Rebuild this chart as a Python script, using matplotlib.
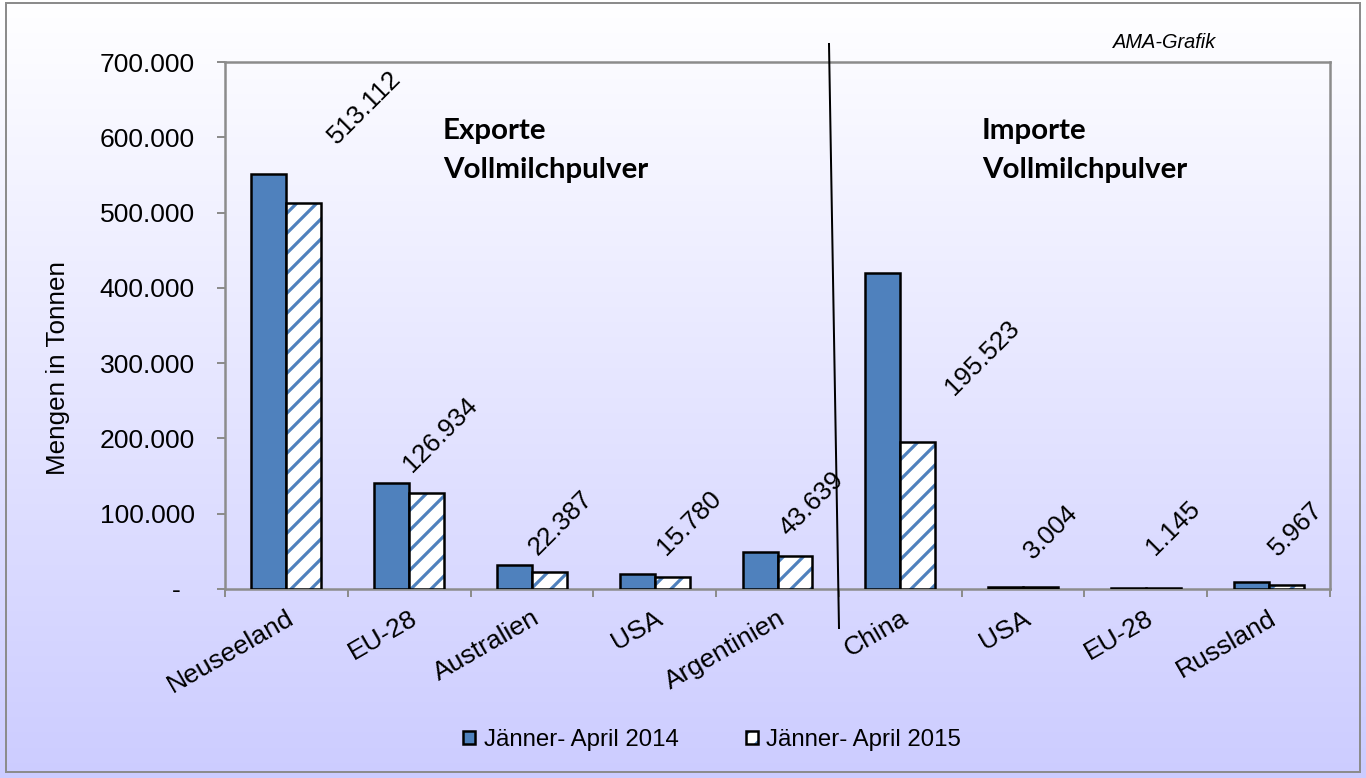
import numpy as np
import matplotlib
matplotlib.use("Agg")
import matplotlib.pyplot as plt
from matplotlib.patches import Patch, Rectangle
from matplotlib.lines import Line2D
from matplotlib.legend_handler import HandlerTuple
from matplotlib.ticker import FuncFormatter, FixedLocator

# ---------------- data ----------------
categories = ["Neuseeland", "EU-28", "Australien", "USA", "Argentinien",
              "China", "USA", "EU-28", "Russland"]
values_2014 = [551000, 141000, 31900, 19500, 49500, 420000, 2000, 800, 9500]
values_2015 = [513112, 126934, 22387, 15780, 43639, 195523, 3004, 1145, 5967]
series_names = ["Jänner- April 2014", "Jänner- April 2015"]
y_ticks = [0, 100000, 200000, 300000, 400000, 500000, 600000, 700000]
y_label = "Mengen in Tonnen"
export_title = "Exporte\nVollmilchpulver"
import_title = "Importe\nVollmilchpulver"
source_note = "AMA-Grafik"

# label offsets (pixels) relative to top of the 2015 bar
label_dx = [61, 14, 11, 17, 17, 65, 11, 10, 10]
label_dy = [95, 59, 49, 54, 52, 84, 55, 60, 55]

# ---------------- style ----------------
W, H = 1366, 778
DPI = 120
def px(p):
    return p * 72.0 / DPI

BLUE = "#4F81BD"
GRID_GRAY = "#8C8C8C"
FONT = "Liberation Sans"
plt.rcParams["font.family"] = [FONT, "DejaVu Sans"]
plt.rcParams["hatch.linewidth"] = px(3.2)

fig = plt.figure(figsize=(W / DPI, H / DPI), dpi=DPI)

# background gradient
bg = fig.add_axes([0, 0, 1, 1], zorder=-10)
grad = np.linspace(0, 1, 256)[:, None]
top = np.array([1.0, 1.0, 1.0])
bot = np.array([0.80, 0.80, 1.0])
img = top[None, None, :] * (1 - grad[..., None]) + bot[None, None, :] * grad[..., None]
bg.imshow(img, aspect="auto", extent=[0, 1, 0, 1], origin="upper")
bg.set_axis_off()

# outer border
fig.patches.append(Rectangle((6 / W, 1 - 772 / H), (1360 - 6) / W, (772 - 3) / H,
                             transform=fig.transFigure, fill=False,
                             edgecolor=GRID_GRAY, linewidth=px(2)))

# main axes
left, right, topy, base = 225, 1330, 62, 589
ax = fig.add_axes([left / W, 1 - base / H, (right - left) / W, (base - topy) / H])
ax.patch.set_alpha(0)

x = np.arange(len(categories))
bw = 0.285
ax.bar(x - bw / 2, values_2014, bw, color=BLUE, edgecolor="black",
       linewidth=px(2.5), zorder=3)
ax.bar(x + bw / 2, values_2015, bw, color="white", edgecolor=BLUE,
       hatch="//", linewidth=0, zorder=3)
ax.bar(x + bw / 2, values_2015, bw, fill=False, edgecolor="black",
       linewidth=px(2.5), zorder=4)

ax.set_xlim(-0.5, len(categories) - 0.5)
ax.set_ylim(0, 700000)

def yfmt(v, pos):
    if v == 0:
        return "-  "
    return f"{v:,.0f}".replace(",", ".")

ax.yaxis.set_major_locator(FixedLocator(y_ticks))
ax.yaxis.set_major_formatter(FuncFormatter(yfmt))
ax.tick_params(axis="y", direction="out", length=px(8), width=px(2),
               color=GRID_GRAY, labelsize=px(26.5), pad=px(22))

ax.set_xticks(x)
ax.set_xticklabels(categories, rotation=30, ha="right", va="top",
                   rotation_mode="anchor", fontsize=px(26.5))
ax.tick_params(axis="x", which="major", length=0, pad=px(17))
ax.set_xticks(np.arange(-0.5, len(categories), 1.0), minor=True)
ax.tick_params(axis="x", which="minor", direction="out", length=px(8),
               width=px(2), color=GRID_GRAY)

for s in ax.spines.values():
    s.set_color(GRID_GRAY)
    s.set_linewidth(px(2.5))

# value labels for 2015
for i, v in enumerate(values_2015):
    txt = f"{v:,.0f}".replace(",", ".")
    ax.annotate(txt, xy=(x[i] + bw / 2, v), xytext=(label_dx[i], label_dy[i]),
                textcoords="offset pixels", rotation=45, ha="center",
                va="center", fontsize=px(26), zorder=5)

# titles
for tx, text in [(443, export_title), (982, import_title)]:
    l1, l2 = text.split("\n")
    fig.text(tx / W, 1 - 139 / H, l1, fontfamily=["Lato", "DejaVu Sans"],
             fontweight="bold", fontsize=px(29.5), va="baseline", ha="left")
    fig.text(tx / W, 1 - 178 / H, l2, fontfamily=["Lato", "DejaVu Sans"],
             fontweight="bold", fontsize=px(29.5), va="baseline", ha="left")

fig.text(1113 / W, 1 - 48 / H, source_note, style="italic", fontsize=px(20),
         va="baseline", ha="left")

fig.text(58 / W, 1 - 368 / H, y_label, rotation=90, ha="center", va="center",
         fontsize=px(26))

# divider line
fig.lines.append(Line2D([829 / W, 839 / W], [1 - 44 / H, 1 - 628 / H],
                        transform=fig.transFigure, color="black",
                        linewidth=px(2)))

# legend
h1 = Patch(facecolor=BLUE, edgecolor="black", linewidth=px(2.5))
h2a = Patch(facecolor="white", edgecolor=BLUE, hatch="//", linewidth=0)
h2b = Patch(facecolor="none", edgecolor="black", linewidth=px(2.5))
fig.legend([h1, (h2a, h2b)], series_names, loc="center",
           bbox_to_anchor=(712 / W, 1 - 740 / H), ncol=2, frameon=False,
           fontsize=px(24), handlelength=0.5, handleheight=0.5,
           handletextpad=0.35, columnspacing=2.8,
           handler_map={tuple: HandlerTuple(ndivide=1, pad=0)})

fig.savefig("out.png", dpi=DPI)
